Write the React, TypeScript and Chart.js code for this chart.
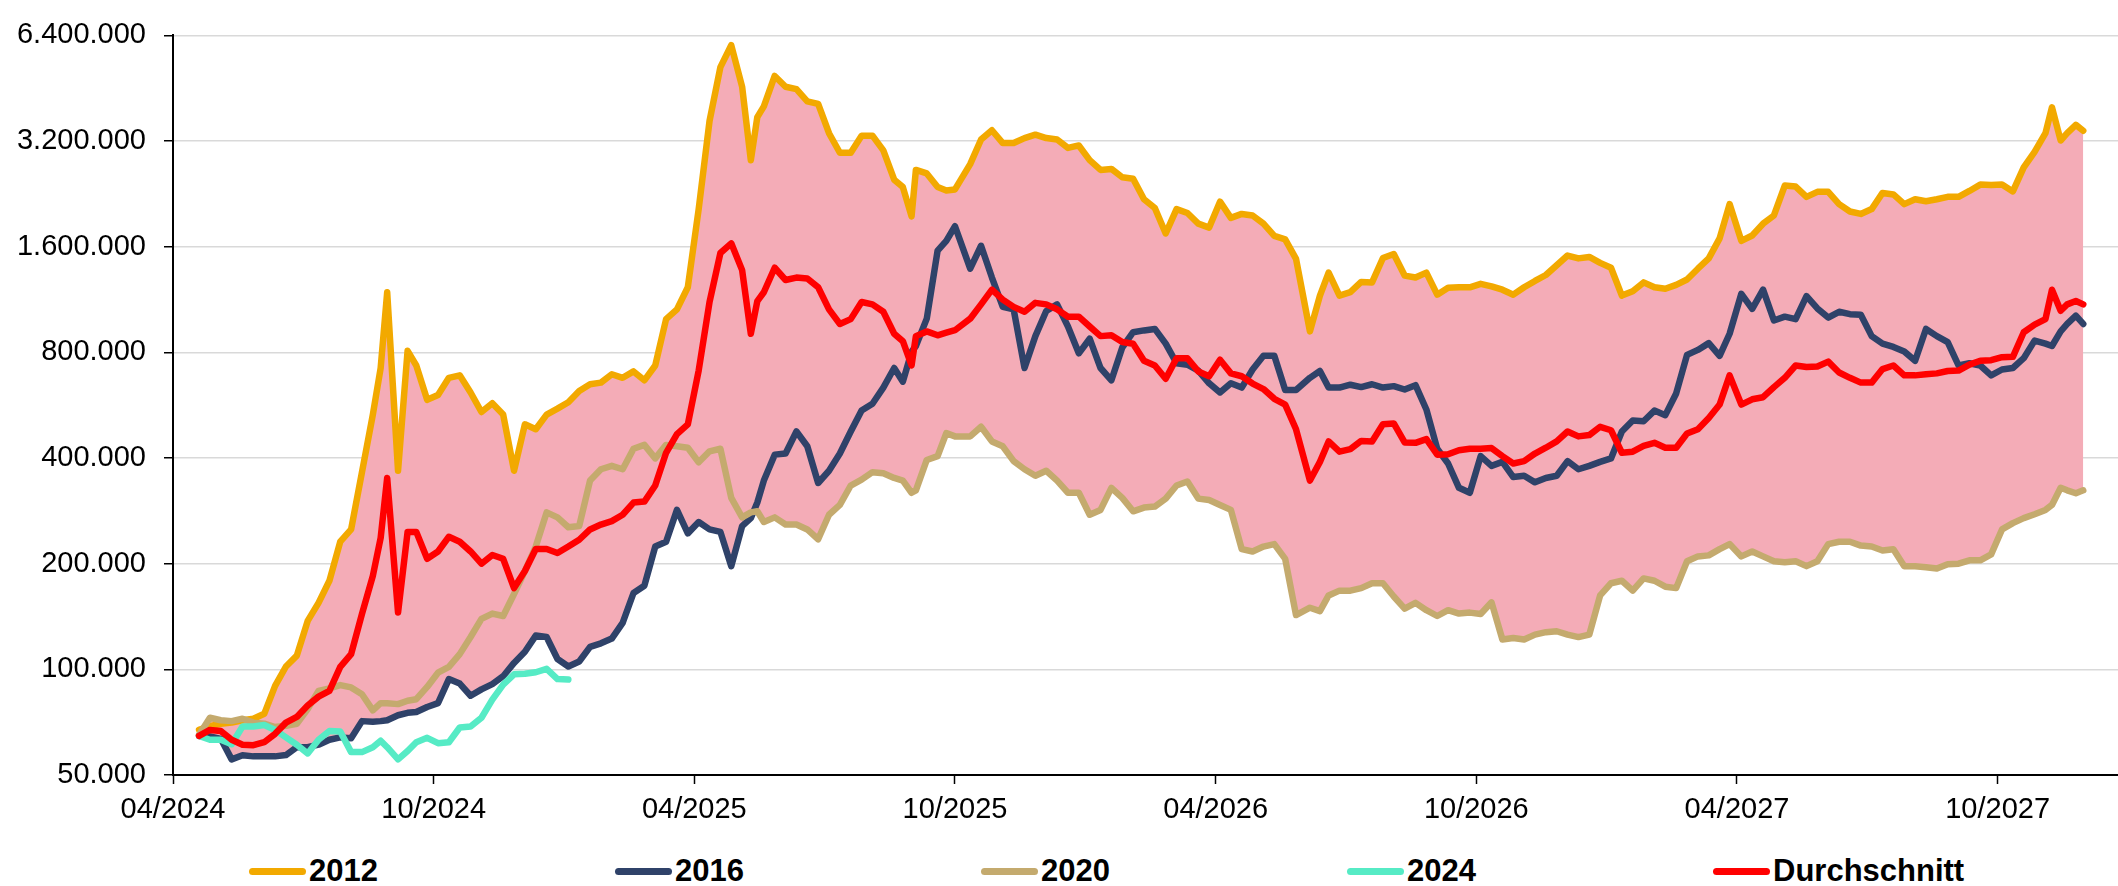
import React, { useEffect, useRef } from 'react';
import { Chart, registerables } from 'chart.js';

Chart.register(...registerables);

// x = months since 04/2024; values in thousands (USD)
const UNIT = 1000;

const months = [
  0.6, 0.85, 1.1, 1.35, 1.6, 1.85, 2.1, 2.35, 2.6, 2.85, 3.1, 3.35, 3.6, 3.85, 4.1, 4.35, 4.6, 4.78,
  4.93, 5.18, 5.4, 5.6, 5.85, 6.1, 6.35, 6.6, 6.85, 7.1, 7.35, 7.6, 7.85, 8.1, 8.35, 8.6, 8.85, 9.1,
  9.35, 9.6, 9.85, 10.1, 10.35, 10.6, 10.85, 11.1, 11.35, 11.6, 11.85, 12.1, 12.35, 12.6, 12.85, 13.1,
  13.3, 13.45, 13.6, 13.85, 14.1, 14.35, 14.6, 14.85, 15.1, 15.35, 15.6, 15.85, 16.1, 16.35, 16.6, 16.8,
  17.0, 17.1, 17.35, 17.6, 17.8, 18.0,
  18.35, 18.6, 18.85, 19.1, 19.35, 19.6, 19.85, 20.1, 20.35, 20.6, 20.85, 21.1, 21.35, 21.6, 21.85, 22.1,
  22.35, 22.6, 22.85, 23.1, 23.35, 23.6, 23.85, 24.1, 24.35, 24.6, 24.85, 25.1, 25.35, 25.6, 25.85,
  26.17, 26.4, 26.6, 26.85, 27.1,
  27.35, 27.6, 27.85, 28.1, 28.35, 28.6, 28.85, 29.1, 29.35, 29.6, 29.85, 30.1, 30.35, 30.6, 30.85,
  31.1, 31.35, 31.6, 31.85, 32.1, 32.35, 32.6, 32.85, 33.1, 33.35, 33.6, 33.85, 34.1, 34.35, 34.6,
  34.85, 35.1, 35.35, 35.6, 35.83, 36.1,
  36.35, 36.6, 36.85, 37.1, 37.35, 37.6, 37.85, 38.1, 38.35, 38.6, 38.85, 39.1, 39.35, 39.6, 39.85,
  40.1, 40.35, 40.6, 40.85, 41.1, 41.35, 41.6, 41.85, 42.1, 42.35, 42.6, 42.85, 43.1, 43.25, 43.45,
  43.6, 43.8, 43.97,
];

const tickMonths = [0, 6, 12, 18, 24, 30, 36, 42];
const tickLabels = ['04/2024', '10/2024', '04/2025', '10/2025', '04/2026', '10/2026', '04/2027', '10/2027'];
const yTicks = [50000, 100000, 200000, 400000, 800000, 1600000, 3200000, 6400000];

const cycle2012 = [
  67.2, 68.9, 70.0, 70.5, 71.6, 72.3, 74.7, 89.7, 101.9, 109.4, 137.4, 154.7, 178.8, 231, 250.4, 364.5,
  532, 722, 1187, 368, 808, 734, 586, 605, 677, 688, 615, 541, 573, 532, 368, 499, 483, 532, 553, 577,
  621, 649, 656, 693, 677, 706, 666, 734, 995, 1061, 1226, 2048, 3650, 5196, 6000, 4570, 2823, 3745,
  4019, 4905, 4570, 4497, 4150, 4085, 3369, 2963, 2963, 3315, 3315, 3010, 2483, 2366, 1952, 2648,
  2588, 2366, 2314, 2330,
  2751, 3232, 3435, 3158, 3158, 3263, 3337, 3263, 3232, 3059, 3109, 2823, 2648, 2665, 2523, 2500,
  2184, 2062, 1745, 2048, 1996, 1861, 1814, 2150, 1933, 1984, 1964, 1861, 1717, 1679, 1477, 918,
  1161, 1350, 1161, 1187,
  1270, 1266, 1486, 1525, 1324, 1307, 1350, 1168, 1222, 1226, 1226, 1254, 1234, 1207, 1168, 1226,
  1278, 1329, 1417, 1510, 1482, 1496, 1439, 1394, 1161, 1195, 1266, 1226, 1214, 1246, 1290, 1385,
  1482, 1690, 2116, 1663,
  1722, 1861, 1964, 2390, 2374, 2219, 2293, 2293, 2116, 2016, 1984, 2048, 2277, 2255, 2116, 2184,
  2157, 2184, 2219, 2219, 2307, 2405, 2397, 2405, 2300, 2691, 2982, 3369, 3992, 3211, 3369, 3558,
  3423,
];

const cycle2016 = [
  64.6, 64.4, 63.4, 55.4, 56.9, 56.5, 56.5, 56.5, 57.0, 60.0, 60.0, 61.0, 63.0, 64.0, 63.6, 71.2,
  70.9, 71.2, 71.6, 74.0, 75.2, 75.6, 78.1, 80.1, 93.8, 91.1, 84.1, 87.7, 90.8, 95.6, 104.3, 112.2,
  124.8, 123.6, 107, 101.9,
  105.3, 115.9, 118.6, 122.4, 135.7, 165, 173.1, 223.8, 231, 284.6, 244, 262.8, 250.4, 246.4, 196.8,
  256, 269.6, 298.7, 345, 409, 412, 476, 432, 339.6, 368, 412, 476, 546, 571, 635, 722, 660, 803, 834,
  998, 1560, 1663, 1830,
  1385, 1610, 1307, 1078, 1061, 722, 890, 1050, 1096, 948, 795, 875, 722, 666, 826, 913, 924, 933,
  847, 745, 738, 710, 653, 615, 653, 635, 715, 782, 782, 625, 625, 677, 708, 635, 635, 647,
  637, 649, 635, 641, 627, 645, 550, 425, 386, 329, 318.5, 405, 380, 390, 353, 356, 341, 351, 356,
  392, 371.6, 380, 390, 399, 476, 512, 509, 546, 530, 611, 787, 813, 850, 782, 904, 1175,
  1064, 1207, 986, 1011, 995, 1157, 1067, 1005, 1044, 1028, 1024, 890, 847, 829, 805, 757, 933, 890,
  856, 734, 745, 734, 688, 715, 722, 770, 864, 847, 834, 918, 964, 1018, 964,
];

const cycle2020 = [
  65.1, 72.8, 71.6, 71.2, 72.3, 70.5, 70.0, 68.5, 69.1, 70.0, 77.1, 86.8, 88.2, 90.2, 88.8, 84.9,
  76.4, 80.1, 80.1, 79.6, 81.4, 82.2, 89.1, 97.8, 101.6, 110.5, 123.6, 139.2, 144.2, 141.9, 163.9,
  190.6, 223.8, 280, 271, 254,
  256, 345, 371.6, 380, 371.6, 425, 436, 399, 436, 432, 428, 389, 418, 425, 308, 271, 280, 282, 263,
  271, 258.5, 258.5, 250.4, 234.8, 275.7, 294, 334, 347, 364.5, 362, 351, 345, 318.5, 323.6, 395,
  405, 471, 461,
  461, 491, 446, 432, 392, 371.6, 356, 368, 345, 318.5, 318.5, 275.7, 284.6, 329, 308, 282, 289, 291,
  306.5, 334, 343, 306.5, 303.6, 294, 284.6, 220, 216.7, 223.8, 227.4, 206.5, 142.8, 149.8, 146.5,
  162.4, 167.6, 167.6,
  170.4, 175.9, 175.9, 161.3, 148.9, 154.7, 147.4, 141.9, 147.4, 144.2, 145.1, 143.8, 155.2, 121.6,
  122.8, 121.6, 125.6, 127.6, 128.4, 125.6, 123.6, 125.6, 162.4, 175.9, 178.8, 167.6, 181.6, 178.8,
  172, 170.4, 203.2, 209.8, 211.2, 220, 227.4, 209.8,
  216.7, 209.8, 203.2, 202, 203.2, 196.8, 203.2, 227.4, 231, 231, 225.2, 223.8, 218.1, 220, 196.8,
  196.8, 195.5, 193.7, 199.4, 200, 204.5, 204.5, 212.6, 250.4, 261, 269.6, 276.6, 284.6, 294, 329,
  323.6, 317.5, 323.6,
];

const cycle2024 = [
  64.6, 63.0, 63.0, 61.2, 68.7, 68.7, 69.4, 67.2, 64.0, 61.0, 57.6, 63.0, 66.7, 66.5, 58.1, 58.1,
  60.0, 62.6, 60.0, 55.4, 58.5, 62.0, 63.8, 61.6, 62.0, 68.3, 68.7, 72.8, 82.0, 90.5, 96.8, 97.1,
  98.1, 100.3, 93.8, 93.5,
];

const average = [
  64.6, 67.2, 66.7, 63.0, 61.0, 60.8, 62.0, 65.5, 70.5, 73.2, 78.9, 83.6, 86.8, 101.6, 110.5, 143.8,
  184.6, 237, 351, 145.1, 246.4, 246.4, 206.5, 216.7, 238.6, 231, 216.7, 200, 211.8, 206.5, 170.4,
  190.6, 220.2, 220.2, 214.6, 223.8,
  234, 250.4, 258.5, 264.5, 275.7, 298.7, 300.6, 334, 414, 468, 499, 710, 1113, 1535, 1636, 1372, 904,
  1120, 1187, 1394, 1286, 1307, 1299, 1226, 1061, 964, 995, 1113, 1096, 1044, 904, 861, 734, 890, 918,
  895, 910, 925,
  998, 1096, 1207, 1131, 1078, 1044, 1107, 1096, 1061, 1011, 1011, 948, 890, 895, 856, 847, 757, 734,
  673, 770, 770, 706, 684, 762, 697, 684, 652, 629, 590, 568, 483, 345, 390, 446, 417, 424,
  447.6, 446, 499, 502, 443, 442, 453, 409, 410, 421, 425, 425, 427, 405, 386, 392, 412, 428, 446,
  476, 461, 465, 491, 480, 414, 417, 433, 442, 428, 428, 470, 483, 520, 568, 688, 568,
  588, 596, 637, 677, 734, 727, 729, 753, 701, 677, 656, 656, 717, 734, 688, 688, 693, 697, 708, 710,
  738, 757, 760, 775, 777, 913, 960, 995, 1207, 1051, 1096, 1120, 1096,
];

const seriesNames = ['2012', '2016', '2020', '2024', 'Durchschnitt'];
const seriesColors = ['#F2A900', '#2F4269', '#C4AA6E', '#56EBC5', '#FF0000'];
const fillColor = '#F4ACB7';

const tickFont = 'Liberation Sans, Arial, sans-serif';

function fmtDE(v: number): string {
  return String(Math.round(v)).replace(/\B(?=(\d{3})+(?!\d))/g, '.');
}

export default function App() {
  const canvasRef = useRef<HTMLCanvasElement | null>(null);

  useEffect(() => {
    const toPts = (arr: number[]) =>
      months.map((m, i) => ({ x: m, y: i < arr.length ? arr[i] * UNIT : null }));
    const upper = months.map((m, i) => ({
      x: m,
      y: Math.max(cycle2012[i], cycle2016[i], cycle2020[i]) * UNIT,
    }));
    const lower = months.map((m, i) => ({
      x: m,
      y: Math.min(cycle2012[i], cycle2016[i], cycle2020[i]) * UNIT,
    }));
    const seriesData = [cycle2012, cycle2016, cycle2020, cycle2024, average];
    const orders = [5, 4, 3, 2, 1];

    const lineSets = seriesData.map((arr, k) => ({
      label: seriesNames[k],
      data: toPts(arr),
      borderColor: seriesColors[k],
      backgroundColor: seriesColors[k],
      borderWidth: 6.5,
      pointRadius: 0,
      fill: false,
      order: orders[k],
      spanGaps: false,
    }));

    const chart = new Chart(canvasRef.current as HTMLCanvasElement, {
      type: 'line',
      data: {
        datasets: [
          ...lineSets,
          {
            label: 'upper',
            data: upper,
            borderWidth: 0,
            borderColor: 'rgba(0,0,0,0)',
            pointRadius: 0,
            fill: false,
            order: 10,
          },
          {
            label: 'lower',
            data: lower,
            borderWidth: 0,
            borderColor: 'rgba(0,0,0,0)',
            backgroundColor: fillColor,
            pointRadius: 0,
            fill: '-1',
            order: 10,
          },
        ] as any,
      },
      options: {
        animation: false,
        responsive: false,
        maintainAspectRatio: false,
        layout: { padding: { top: 22, left: 0, right: 0, bottom: 0 } },
        elements: {
          point: { radius: 0 },
          line: { tension: 0, borderJoinStyle: 'round', borderCapStyle: 'round' },
        },
        plugins: {
          legend: { display: false },
          tooltip: { enabled: false },
        },
        scales: {
          x: {
            type: 'linear',
            min: 0,
            max: 44.77,
            afterBuildTicks: (s: any) => {
              s.ticks = tickMonths.map((v) => ({ value: v }));
            },
            afterFit: (s: any) => {
              s.height = 55;
            },
            ticks: {
              autoSkip: false,
              maxRotation: 0,
              padding: 9,
              color: '#000',
              font: { family: tickFont, size: 29 },
              callback: (v: any) => {
                const idx = tickMonths.indexOf(Number(v));
                return idx >= 0 ? tickLabels[idx] : '';
              },
            },
            grid: {
              drawOnChartArea: false,
              tickLength: 9,
              tickColor: '#000',
              tickWidth: 1.5,
            },
            border: { color: '#000', width: 2 },
          },
          y: {
            type: 'logarithmic',
            min: 50000,
            max: 6400000,
            afterBuildTicks: (s: any) => {
              s.ticks = yTicks.map((v) => ({ value: v }));
            },
            afterFit: (s: any) => {
              s.width = 173;
            },
            ticks: {
              autoSkip: false,
              padding: 18,
              color: '#000',
              font: { family: tickFont, size: 29 },
              callback: (v: any) => fmtDE(Number(v)),
            },
            grid: {
              color: '#D9D9D9',
              lineWidth: 1.5,
              tickLength: 9,
              tickColor: '#000',
              tickWidth: 1.5,
            },
            border: { color: '#000', width: 2 },
          },
        },
      } as any,
    });
    return () => chart.destroy();
  }, []);

  return (
    <div
      style={{
        position: 'fixed',
        left: 0,
        top: 0,
        width: 2118,
        height: 886,
        background: '#fff',
        overflow: 'hidden',
      }}
    >
      <canvas ref={canvasRef} width={2118} height={830} style={{ display: 'block' }} />
      {seriesNames.map((name, i) => (
        <div
          key={name}
          style={{
            position: 'absolute',
            left: 249 + 366 * i,
            top: 851,
            height: 40,
            display: 'flex',
            alignItems: 'center',
            fontFamily: tickFont,
            fontWeight: 'bold',
            fontSize: 31,
            color: '#000',
            whiteSpace: 'nowrap',
          }}
        >
          <span
            style={{
              display: 'inline-block',
              width: 57,
              height: 7,
              borderRadius: 4,
              background: seriesColors[i],
              marginRight: 3,
            }}
          />
          <span>{name}</span>
        </div>
      ))}
    </div>
  );
}
